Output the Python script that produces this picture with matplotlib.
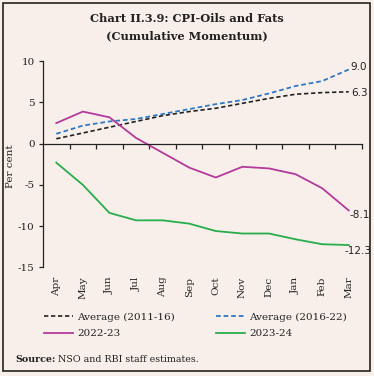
import matplotlib
matplotlib.use("Agg")
import matplotlib.pyplot as plt
from matplotlib.patches import Rectangle

months = ["Apr", "May", "Jun", "Jul", "Aug", "Sep", "Oct", "Nov", "Dec", "Jan", "Feb", "Mar"]
avg_2011_16 = [0.6, 1.3, 2.0, 2.7, 3.4, 3.9, 4.3, 4.9, 5.5, 6.0, 6.2, 6.3]
avg_2016_22 = [1.2, 2.2, 2.7, 3.0, 3.6, 4.2, 4.8, 5.3, 6.1, 7.0, 7.6, 9.0]
y2022_23 = [2.5, 3.9, 3.2, 0.7, -1.1, -2.9, -4.1, -2.8, -3.0, -3.7, -5.4, -8.1]
y2023_24 = [-2.3, -5.0, -8.4, -9.3, -9.3, -9.7, -10.6, -10.9, -10.9, -11.6, -12.2, -12.3]
yticks = [10, 5, 0, -5, -10, -15]

BG = "#f8efeb"
C_BLACK = "#222222"
C_BLUE = "#2e78c4"
C_MAG = "#b4399b"
C_GREEN = "#27ad4a"
FONT = "DejaVu Serif"

plt.rcParams["font.family"] = FONT

W, H = 374, 376
fig = plt.figure(figsize=(W / 100, H / 100), dpi=100, facecolor=BG)
ax = fig.add_axes([43 / W, 1 - 267.3 / H, (362 - 43) / W, (267.3 - 61.3) / H])
ax.set_facecolor(BG)

x = list(range(len(months)))
dash = (0, (2.6, 1.6))
ax.plot(x, avg_2011_16, color=C_BLACK, lw=1.2, linestyle=dash, label="Average (2011-16)")
ax.plot(x, avg_2016_22, color=C_BLUE, lw=1.3, linestyle=dash, label="Average (2016-22)")
ax.plot(x, y2022_23, color=C_MAG, lw=1.3, label="2022-23")
ax.plot(x, y2023_24, color=C_GREEN, lw=1.3, label="2023-24")

ax.set_xlim(-0.5, len(months) - 0.5)
ax.set_ylim(-15, 10)
ax.set_yticks(yticks)
ax.set_yticklabels([str(v) for v in yticks], fontsize=7.5, color=C_BLACK)
ax.tick_params(axis="y", direction="out", length=3, width=0.9, pad=3, colors=C_BLACK)

for s in ["top", "right"]:
    ax.spines[s].set_visible(False)
ax.spines["left"].set_color(C_BLACK)
ax.spines["left"].set_linewidth(0.9)
ax.spines["bottom"].set_position(("data", 0))
ax.spines["bottom"].set_color(C_BLACK)
ax.spines["bottom"].set_linewidth(0.9)
ax.set_xticks([i + 0.5 for i in x])
ax.set_xticklabels([])
ax.tick_params(axis="x", direction="out", length=3.5, width=0.9, colors=C_BLACK)

for i, m in enumerate(months):
    ax.text(i, -0.045, m, transform=ax.get_xaxis_transform(), rotation=90,
            ha="center", va="top", fontsize=7.5, color=C_BLACK)

ax.set_ylabel("Per cent", fontsize=7.5, color=C_BLACK)
ax.yaxis.set_label_coords((15 - 43) / 319, 0.49)

# end labels
end_kw = dict(textcoords="offset points", fontsize=7.5, ha="left", va="center",
              color=C_BLACK, family="DejaVu Sans")
ax.annotate(f"{avg_2016_22[-1]:.1f}", (x[-1], avg_2016_22[-1]), xytext=(1.5, 2), **end_kw)
ax.annotate(f"{avg_2011_16[-1]:.1f}", (x[-1], avg_2011_16[-1]), xytext=(1.5, -1), **end_kw)
ax.annotate(f"{y2022_23[-1]:.1f}", (x[-1], y2022_23[-1]), xytext=(0.5, -3), **end_kw)
ax.annotate(f"{y2023_24[-1]:.1f}", (x[-1], y2023_24[-1]), xytext=(-3, -4.5), **end_kw)

# title
fig.text(187 / W, 1 - 18 / H, "Chart II.3.9: CPI-Oils and Fats", ha="center", va="center",
         fontsize=8.2, fontweight="bold", color=C_BLACK)
fig.text(187 / W, 1 - 36 / H, "(Cumulative Momentum)", ha="center", va="center",
         fontsize=8.2, fontweight="bold", color=C_BLACK)

# legends
lines = ax.get_lines()
leg_kw = dict(frameon=False, fontsize=7.5, handlelength=2.8, handletextpad=0.4,
              labelspacing=0.7, borderpad=0, borderaxespad=0, labelcolor=C_BLACK)
fig.legend([lines[0], lines[2]], [lines[0].get_label(), lines[2].get_label()],
           loc="upper left", bbox_to_anchor=(44 / W, 1 - 312.5 / H), **leg_kw)
fig.legend([lines[1], lines[3]], [lines[1].get_label(), lines[3].get_label()],
           loc="upper left", bbox_to_anchor=(216 / W, 1 - 312.5 / H), **leg_kw)

# source
t1 = fig.text(15 / W, 1 - 360 / H, "Source:", ha="left", va="center", fontsize=6.8,
              fontweight="bold", color=C_BLACK)
fig.canvas.draw()
bb = t1.get_window_extent(renderer=fig.canvas.get_renderer())
fig.text((bb.x1 + 3) / W, 1 - 360 / H, "NSO and RBI staff estimates.", ha="left", va="center",
         fontsize=6.8, color=C_BLACK)

fig.patches.append(Rectangle((3 / W, 1 - 371 / H), 367 / W, 368 / H, transform=fig.transFigure,
                             fill=False, edgecolor=C_BLACK, linewidth=1.2))

fig.savefig("out.png", dpi=100, facecolor=BG)
